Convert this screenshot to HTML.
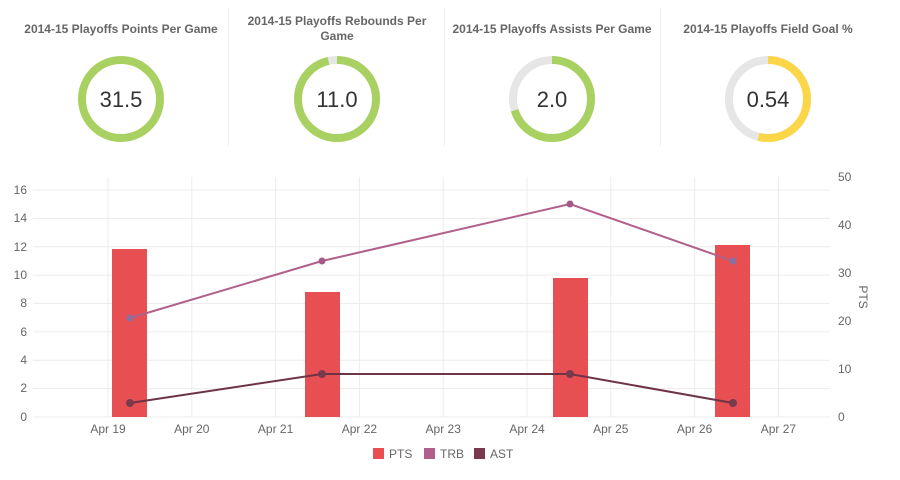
<!DOCTYPE html>
<html><head><meta charset="utf-8"><style>
body{margin:0;background:#fff;font-family:"Liberation Sans",sans-serif;}
</style></head><body>
<svg width="900" height="475" xmlns="http://www.w3.org/2000/svg" font-family="Liberation Sans, sans-serif">
<g stroke="#eeeeee" stroke-width="1">
<line x1="228.5" y1="8" x2="228.5" y2="146"/><line x1="444.5" y1="8" x2="444.5" y2="146"/><line x1="660.5" y1="8" x2="660.5" y2="146"/>
</g>
<g font-size="12" font-weight="bold" fill="#666" text-anchor="middle">
<text x="121" y="33">2014-15 Playoffs Points Per Game</text>
<text x="337" y="25">2014-15 Playoffs Rebounds Per</text>
<text x="337" y="40">Game</text>
<text x="552" y="33">2014-15 Playoffs Assists Per Game</text>
<text x="768" y="33">2014-15 Playoffs Field Goal %</text>
</g>
<g fill="none" stroke-width="8">
<circle cx="121" cy="99" r="39" stroke="#a9d162"/>
<circle cx="337" cy="99" r="39" stroke="#e6e6e6"/>
<circle cx="337" cy="99" r="39" stroke="#a9d162" stroke-dasharray="236 245" transform="rotate(-90 337 99)"/>
<circle cx="552" cy="99" r="39" stroke="#e6e6e6"/>
<circle cx="552" cy="99" r="39" stroke="#a9d162" stroke-dasharray="172 245" transform="rotate(-90 552 99)"/>
<circle cx="768" cy="99" r="39" stroke="#e6e6e6"/>
<circle cx="768" cy="99" r="39" stroke="#fcd649" stroke-dasharray="132 245" transform="rotate(-90 768 99)"/>
</g>
<g font-size="22" fill="#333" text-anchor="middle">
<text x="121" y="107">31.5</text><text x="337" y="107">11.0</text><text x="552" y="107">2.0</text><text x="768" y="107">0.54</text>
</g>
<g stroke="#ececec" stroke-width="1">
<line x1="33" y1="190" x2="830" y2="190"/><line x1="33" y1="218.4" x2="830" y2="218.4"/><line x1="33" y1="246.8" x2="830" y2="246.8"/><line x1="33" y1="275.1" x2="830" y2="275.1"/><line x1="33" y1="303.5" x2="830" y2="303.5"/><line x1="33" y1="331.9" x2="830" y2="331.9"/><line x1="33" y1="360.3" x2="830" y2="360.3"/><line x1="33" y1="388.6" x2="830" y2="388.6"/><line x1="33" y1="417" x2="830" y2="417"/>
<line x1="108" y1="177" x2="108" y2="417"/><line x1="191.8" y1="177" x2="191.8" y2="417"/><line x1="275.6" y1="177" x2="275.6" y2="417"/><line x1="359.4" y1="177" x2="359.4" y2="417"/><line x1="443.2" y1="177" x2="443.2" y2="417"/><line x1="527" y1="177" x2="527" y2="417"/><line x1="610.8" y1="177" x2="610.8" y2="417"/><line x1="694.6" y1="177" x2="694.6" y2="417"/><line x1="778.4" y1="177" x2="778.4" y2="417"/>
</g>
<g fill="#e84f52">
<rect x="112" y="249" width="35" height="168"/><rect x="305" y="292" width="35" height="125"/><rect x="553" y="278" width="35" height="139"/><rect x="715" y="245" width="35" height="172"/>
</g>
<polyline points="130,318 322,261 570,204 733,261" fill="none" stroke="#b0608a" stroke-width="2"/>
<g fill="#8b70a0"><circle cx="130" cy="318" r="3.5"/><circle cx="322" cy="261" r="3.5" fill="#a45a86"/><circle cx="570" cy="204" r="3.5" fill="#a45a86"/><circle cx="733" cy="261" r="3.5"/></g>
<polyline points="130,403 322,374 570,374 733,403" fill="none" stroke="#6e3446" stroke-width="2"/>
<g fill="#7a3a4e"><circle cx="130" cy="403" r="4"/><circle cx="322" cy="374" r="4"/><circle cx="570" cy="374" r="4"/><circle cx="733" cy="403" r="4"/></g>
<g font-size="12" fill="#666" text-anchor="end">
<text x="27" y="194">16</text><text x="27" y="222">14</text><text x="27" y="251">12</text><text x="27" y="279">10</text><text x="27" y="307">8</text><text x="27" y="336">6</text><text x="27" y="364">4</text><text x="27" y="392">2</text><text x="27" y="421">0</text>
</g>
<g font-size="12" fill="#666">
<text x="838" y="181">50</text><text x="838" y="229">40</text><text x="838" y="277">30</text><text x="838" y="325">20</text><text x="838" y="373">10</text><text x="838" y="421">0</text>
<text transform="translate(859 297) rotate(90)" text-anchor="middle">PTS</text>
</g>
<g font-size="12" fill="#666" text-anchor="middle">
<text x="108" y="433">Apr 19</text><text x="191.8" y="433">Apr 20</text><text x="275.6" y="433">Apr 21</text><text x="359.4" y="433">Apr 22</text><text x="443.2" y="433">Apr 23</text><text x="527" y="433">Apr 24</text><text x="610.8" y="433">Apr 25</text><text x="694.6" y="433">Apr 26</text><text x="778.4" y="433">Apr 27</text>
</g>
<rect x="373" y="448" width="11" height="11" fill="#e84f52"/><text x="389" y="458" font-size="12" fill="#666">PTS</text>
<rect x="424" y="448" width="11" height="11" fill="#b0608a"/><text x="440" y="458" font-size="12" fill="#666">TRB</text>
<rect x="474" y="448" width="11" height="11" fill="#7a3a4e"/><text x="490" y="458" font-size="12" fill="#666">AST</text>
</svg>
</body></html>
